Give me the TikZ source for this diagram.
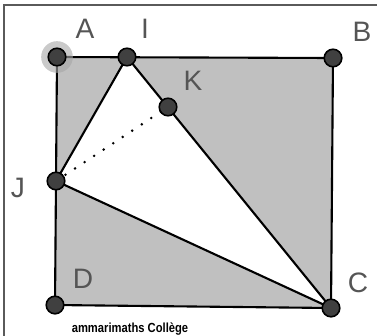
\documentclass[tikz,border=0pt]{standalone}
\usepackage{fontspec}
\setmainfont{Liberation Sans}
\usetikzlibrary{positioning}
\definecolor{figgray}{RGB}{192,192,192}
\definecolor{ptgray}{RGB}{64,64,64}
\definecolor{labelgray}{RGB}{85,85,85}
\definecolor{framegray}{RGB}{90,90,90}

\begin{document}
\begin{tikzpicture}[x=0.02cm,y=-0.02cm,
    pt/.style={circle, draw=black, fill=ptgray, line width=0.9pt, minimum size=10pt, inner sep=0pt},
    lbl/.style={anchor=base, font=\fontsize{16}{16}\selectfont, text=labelgray},
    seg/.style={line width=1.2pt, black}]
    \useasboundingbox (0,0) rectangle (377,335);
    \draw[framegray, line width=0.9pt] (4,340) -- (4,5) -- (380,5);

    % points of the figure
    \coordinate (A) at (57,57);
    \coordinate (B) at (333,58);
    \coordinate (C) at (331,308);
    \coordinate (D) at (55,305);
    \coordinate (I) at (127,57);
    \coordinate (J) at (56,181);
    \coordinate (K) at (168,107);

    \fill[figgray] (A) -- (B) -- (C) -- (D) -- cycle;
    \fill[white] (I) -- (J) -- (C) -- cycle;
    \draw[seg] (A) -- (B) -- (C) -- (D) -- cycle;
    \draw[seg] (I) -- (J) -- (C) -- cycle;
    \draw[line width=1.6pt, line cap=round, dash pattern=on 0pt off 6.5pt] (J) -- (K);

    \fill[gray!70, opacity=0.6] (A) circle (9pt);
    \foreach \p in {A,B,C,D,I,J,K}
        \node[pt] (pt\p) at (\p) {};

    \node[lbl] (lA) at (85,38) {A};
    \node[lbl] (lI) at (145,38) {I};
    \node[lbl] (lB) at (362,41) {B};
    \node[lbl] (lK) at (193,90) {K};
    \node[lbl] (lJ) at (18,197) {J};
    \node[lbl] (lD) at (83,288) {D};
    \node[lbl] (lC) at (358,292) {C};
    \node[anchor=base, font=\bfseries\fontsize{7.5}{8}\selectfont, xscale=0.85] (credit) at (130,332) {ammarimaths Collège};
\end{tikzpicture}
\end{document}
